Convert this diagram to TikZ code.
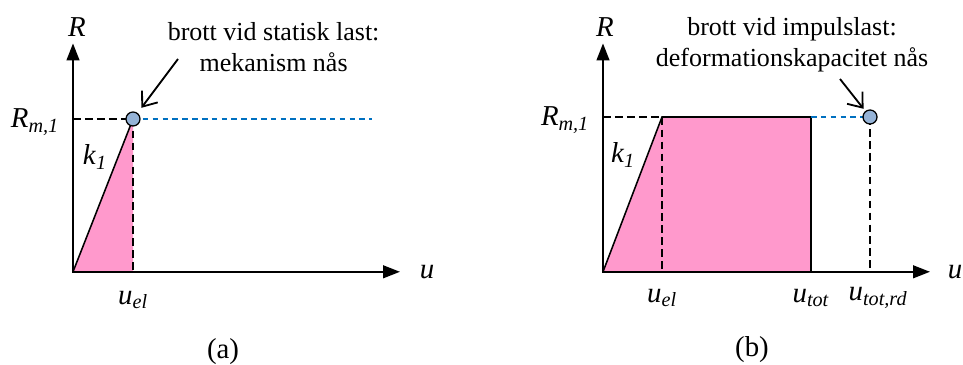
\documentclass[tikz,border=0pt]{standalone}
\usepackage{fontspec}
\setmainfont{Liberation Serif}
\usepackage{tikz}
\usetikzlibrary{arrows.meta, positioning}
\definecolor{barpink}{RGB}{255, 153, 204}
\definecolor{dotblue}{RGB}{149, 179, 215}
\definecolor{lineblue}{RGB}{0, 112, 192}

\begin{document}
\begin{tikzpicture}[font=\fontsize{18.5}{22}\selectfont,
  lbl/.style={font=\fontsize{20.5}{24}\selectfont},
  axis/.style={line width=1.4pt, {Triangle[length=12pt,width=9pt]}-{Triangle[length=12pt,width=9pt]}},
  slope/.style={line width=1.1pt},
  guide/.style={line width=1pt, dash pattern=on 5.5pt off 3pt},
  reach/.style={lineblue, line width=1.1pt, dash pattern=on 4pt off 3pt},
  dot/.style={circle, draw, line width=0.9pt, fill=dotblue, minimum size=0.35cm, inner sep=0pt},
  callout/.style={line width=1.3pt, -{Straight Barb[length=9pt,width=14pt]}}]
  \useasboundingbox (0,0) rectangle (24.075,9.125);

  % (a) statisk last
  \coordinate (Oa) at (1.825,2.33);
  \coordinate (Ya) at (1.825,8.04);
  \coordinate (Xa) at (10.0,2.33);
  \coordinate (ta) at (3.325,6.15);
  \coordinate (ela) at (3.325,2.33);
  \coordinate (Rma) at (1.825,6.15);
  \coordinate (enda) at (9.3,6.15);
  \fill[barpink] (Oa) -- (ta) -- (ela) -- cycle;
  \draw[slope] (Oa) -- (ta);
  \draw[guide] (Rma) -- (ta) -- (ela);
  \draw[reach] (ta) -- (enda);
  \draw[axis] (Ya) -- (Oa) -- (Xa);
  \node[dot] (pa) at (ta) {};
  \node[lbl] (Ra) at (1.925,8.45) {\textit{R}};
  \node[lbl] (Rmlbla) at (0.875,6.075) {\textit{R}\textsubscript{\textit{m,1}}};
  \node[lbl] (ka) at (2.375,5.2) {\textit{k}\textsubscript{\textit{1}}};
  \node[lbl] (ua) at (10.675,2.33) {\textit{u}};
  \node[lbl] (uela) at (3.325,1.625) {\textit{u}\textsubscript{\textit{el}}};
  \node[lbl] (capa) at (5.575,0.325) {(a)};
  \node[align=center] (texta) at (6.84,7.94) {brott vid statisk last:\\mekanism nås};
  \coordinate (sa) at (4.45,7.65);
  \draw[callout, shorten >=4.5pt] (sa) -- (pa);

  % (b) impulslast
  \coordinate (Ob) at (15.075,2.33);
  \coordinate (Yb) at (15.075,8.04);
  \coordinate (Xb) at (23.25,2.33);
  \coordinate (kb) at (16.55,6.2);
  \coordinate (elb) at (16.55,2.33);
  \coordinate (tb) at (20.275,6.2);
  \coordinate (totb) at (20.275,2.33);
  \coordinate (Rmb) at (15.075,6.2);
  \coordinate (tb2) at (21.75,6.2);
  \coordinate (rdb) at (21.75,2.33);
  \fill[barpink] (Ob) -- (kb) -- (tb) -- (totb) -- cycle;
  \draw[guide] (Rmb) -- (kb) -- (elb);
  \draw[slope] (Ob) -- (kb) -- (tb) -- (totb);
  \draw[reach] (tb) -- (tb2);
  \draw[guide] (tb2) -- (rdb);
  \draw[axis] (Yb) -- (Ob) -- (Xb);
  \node[dot] (pb) at (tb2) {};
  \node[lbl] (Rb) at (15.125,8.45) {\textit{R}};
  \node[lbl] (Rmlblb) at (14.125,6.125) {\textit{R}\textsubscript{\textit{m,1}}};
  \node[lbl] (kb1) at (15.575,5.25) {\textit{k}\textsubscript{\textit{1}}};
  \node[lbl] (ub) at (23.875,2.33) {\textit{u}};
  \node[lbl] (uelb) at (16.55,1.675) {\textit{u}\textsubscript{\textit{el}}};
  \node[lbl] (utotb) at (20.275,1.675) {\textit{u}\textsubscript{\textit{tot}}};
  \node[lbl] (urdb) at (21.95,1.675) {\textit{u}\textsubscript{\textit{tot,rd}}};
  \node[lbl] (capb) at (18.8,0.375) {(b)};
  \node[align=center] (textb) at (19.8,8.0) {brott vid impulslast:\\deformationskapacitet nås};
  \coordinate (sb) at (21.0,7.15);
  \draw[callout, shorten >=2pt] (sb) -- (pb);
\end{tikzpicture}
\end{document}
